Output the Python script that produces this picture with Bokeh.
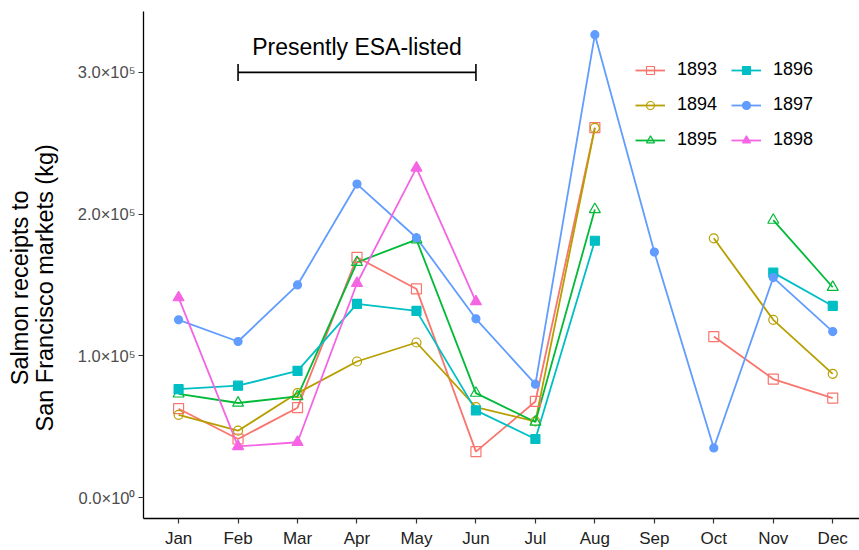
import numpy as np
from bokeh.plotting import figure
from bokeh.models import Range1d, FixedTicker, Legend, LegendItem, Label
from bokeh.embed import file_html
from bokeh.resources import INLINE

nan = np.nan

# Monthly salmon receipts to San Francisco markets (kg), 1893-1898
months = ["Jan", "Feb", "Mar", "Apr", "May", "Jun",
          "Jul", "Aug", "Sep", "Oct", "Nov", "Dec"]
years = ["1893", "1894", "1895", "1896", "1897", "1898"]

y1893 = [62700, 41300, 63400, 169500, 147200, 32400, 67800, 261000, nan, 113600, 83600, 70200]
y1894 = [58400, 47200, 73700, 96000, 109400, 63800, 53700, 260800, nan, 182900, 125400, 87300]
y1895 = [73200, 66700, 71400, 166000, 182000, 73700, 53300, 203300, nan, nan, 195800, 148400]
y1896 = [76500, 78900, 89400, 136600, 131700, 61500, 41300, 181200, nan, nan, 158700, 135200]
y1897 = [125400, 110100, 150000, 221200, 183300, 126100, 80000, 326600, 173200, 35000, 155200, 117100]
y1898 = [141100, 36100, 39000, 151200, 232600, 138300, nan, nan, nan, nan, nan, nan]

y_ticks = [0, 100000, 200000, 300000]
y_tick_labels = ["0.0\u00d710\u2070", "1.0\u00d710\u2075",
                 "2.0\u00d710\u2075", "3.0\u00d710\u2075"]
y_title = ["Salmon receipts to", "San Francisco markets (kg)"]

esa_label = "Presently ESA-listed"
esa_months = ("Feb", "Jun")

colors = ["#F8766D", "#B79F00", "#00BA38", "#00BFC4", "#619CFF", "#F564E3"]
markers = ["square", "circle", "triangle", "square", "circle", "triangle"]
filled = [False, False, False, True, True, True]
sizes = [10, 9, 11, 9, 8, 11]
series = [y1893, y1894, y1895, y1896, y1897, y1898]

FONT = "Liberation Sans"
x = np.arange(1, len(months) + 1)

p = figure(width=859, height=550, output_backend="svg", toolbar_location=None,
           x_range=Range1d(0.41, 12.45), y_range=Range1d(-14789, 342958),
           min_border_left=143, min_border_right=0, min_border_top=11,
           min_border_bottom=31, background_fill_color="white",
           border_fill_color="white")
p.outline_line_color = None
p.xgrid.visible = False
p.ygrid.visible = False

line_renderers = []
for vals, c in zip(series, colors):
    r = p.line(x, np.array(vals, dtype=float), line_color=c, line_width=1.8)
    line_renderers.append(r)

point_renderers = []
for vals, c, m, f, s in zip(series, colors, markers, filled, sizes):
    r = p.scatter(x, np.array(vals, dtype=float), marker=m, size=s,
                  line_color=c, line_width=1.2,
                  fill_color=c if f else None)
    point_renderers.append(r)

# bracket over the listed months with its caption
xa = months.index(esa_months[0]) + 1
xb = months.index(esa_months[1]) + 1
bar_y = 300000
cap = 6000
p.segment(x0=[xa, xa, xb], y0=[bar_y, bar_y - cap, bar_y - cap],
          x1=[xb, xa, xb], y1=[bar_y, bar_y + cap, bar_y + cap],
          line_color="black", line_width=1.6)
p.add_layout(Label(x=(xa + xb) / 2, y=318000, text=esa_label,
                   text_align="center", text_baseline="middle",
                   text_font=FONT, text_font_size="23px", text_color="black"))

# axes
p.xaxis.ticker = FixedTicker(ticks=list(x))
p.xaxis.major_label_overrides = {int(i): m for i, m in zip(x, months)}
p.yaxis.ticker = FixedTicker(ticks=y_ticks)
p.yaxis.major_label_overrides = {t: l for t, l in zip(y_ticks, y_tick_labels)}
for ax in (p.xaxis, p.yaxis):
    ax.axis_line_color = "black"
    ax.axis_line_width = 1.3
    ax.major_tick_line_color = "#333333"
    ax.major_tick_line_width = 1.2
    ax.major_tick_out = 5
    ax.major_tick_in = 0
    ax.minor_tick_line_color = None
    ax.major_label_text_font = FONT
p.xaxis.major_label_text_font_size = "17px"
p.xaxis.major_label_text_color = "#222222"
p.xaxis.major_label_standoff = 5
p.yaxis.major_label_text_font_size = "16.5px"
p.yaxis.major_label_text_color = "#4D4D4D"
p.yaxis.major_label_standoff = 3

# two-line y title; trailing no-break spaces nudge the text below the frame centre
pad = "\u00a0" * 7
p.yaxis.axis_label = "\n".join(t + pad for t in y_title)
p.yaxis.axis_label_text_font = FONT
p.yaxis.axis_label_text_font_size = "23.5px"
p.yaxis.axis_label_text_font_style = "normal"
p.yaxis.axis_label_text_color = "black"
p.yaxis.axis_label_text_line_height = 0.95
p.yaxis.axis_label_standoff = 17

items = [LegendItem(label=yr, renderers=[lr, pr])
         for yr, lr, pr in zip(years, line_renderers, point_renderers)]
legend = Legend(items=items, location=(492, 368), orientation="vertical",
                nrows=3, glyph_width=30, glyph_height=20, label_standoff=12,
                spacing=14, padding=0, margin=0, border_line_color=None,
                background_fill_alpha=0, label_text_font=FONT,
                label_text_font_size="18px", label_text_color="black")
p.add_layout(legend)

open("out.html", "w").write(file_html(p, INLINE))
